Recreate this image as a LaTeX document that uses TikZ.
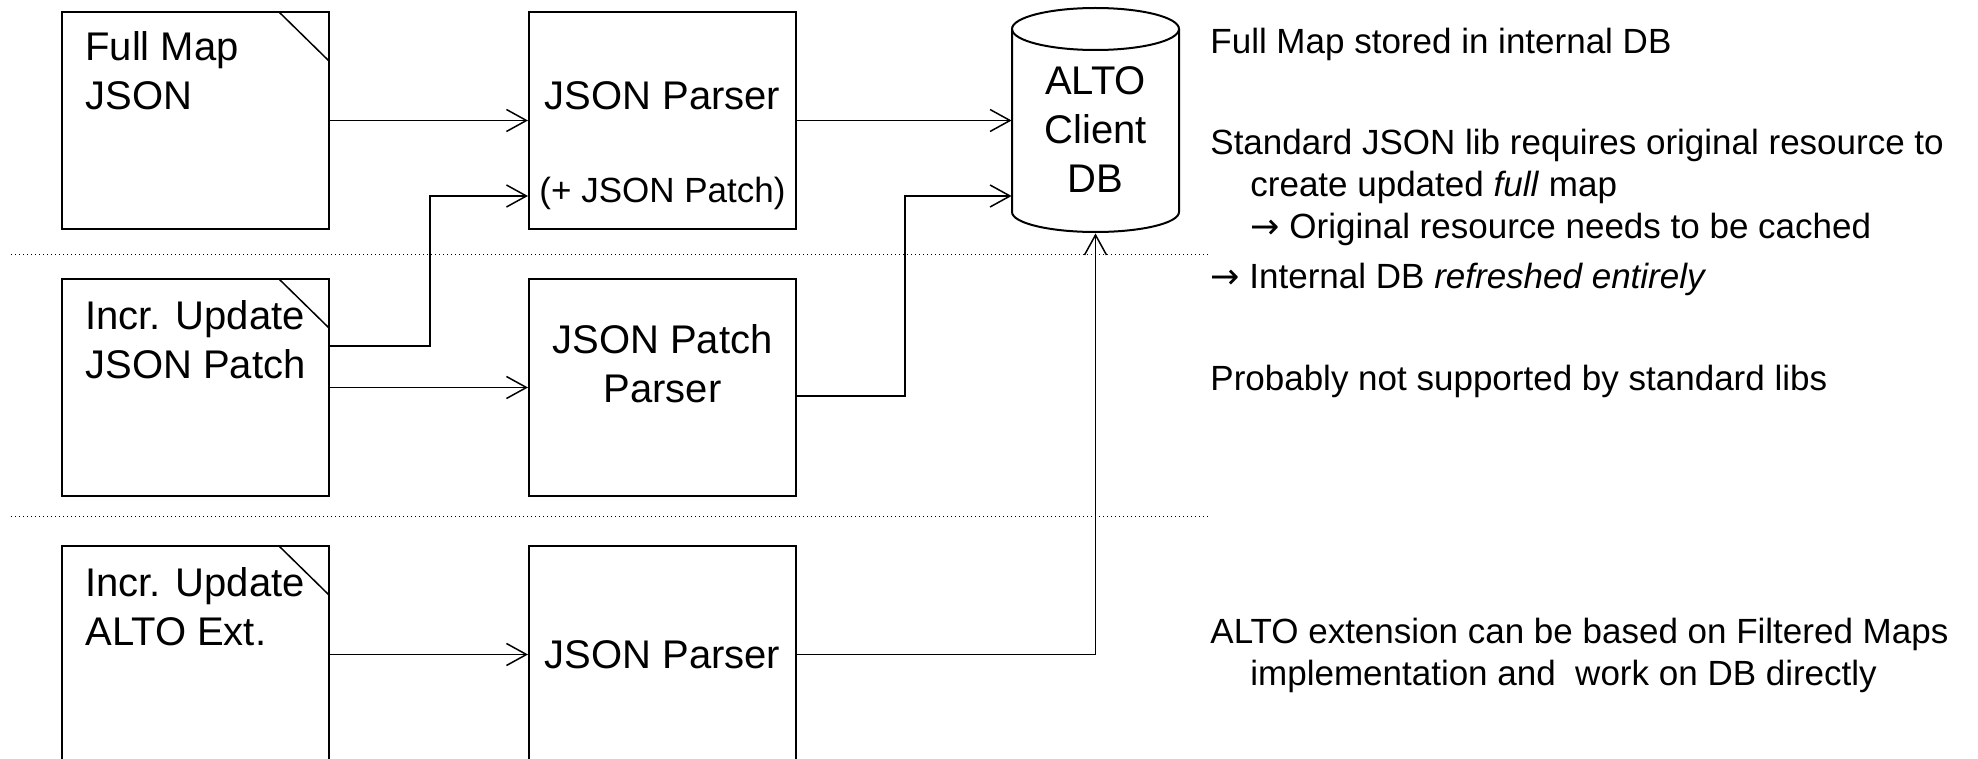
\documentclass[tikz,border=0pt]{standalone}
\usepackage{fontspec}
\setmainfont{Liberation Sans}
\newfontfamily\arrowfont{DejaVu Sans}
\newcommand{\notearrow}{{\arrowfont →}}
\usetikzlibrary{arrows.meta,positioning}

\tikzset{
  docbox/.style={draw, line width=1pt, inner sep=0pt,
    minimum width=133.5pt, minimum height=108.5pt,
    path picture={\draw[line width=0.75pt]
      ([xshift=-25pt]path picture bounding box.north east) --
      ([yshift=-24.5pt]path picture bounding box.north east);}},
  parsebox/.style={draw, line width=1pt, inner sep=0pt,
    minimum width=133.5pt, minimum height=108.5pt},
  dbbox/.style={inner sep=0pt, minimum width=83.5pt, minimum height=112.5pt},
  dbline/.style={line width=1pt},
  boxtext/.style={inner sep=0pt, font=\fontsize{20}{24.5}\selectfont},
  smalltext/.style={inner sep=0pt, font=\fontsize{17.5}{21}\selectfont},
  notetext/.style={inner sep=0pt, anchor=north west, align=left,
    font=\fontsize{17.5}{21}\selectfont},
  conn/.style={line width=0.75pt},
  sepline/.style={line width=0.5pt, dash pattern=on 0.5pt off 1.5pt},
}

\begin{document}
\begin{tikzpicture}[>={Straight Barb[length=10pt,width=11pt]}, x=0.5pt, y=-0.5pt]
  \useasboundingbox (0,0) rectangle (1978,759);

  % \draw input documents
  \node[docbox] (fullmap) at (195.5,120.5) {};
  \node[docbox] (incrpatch) at (195.5,387.5) {};
  \node[docbox] (incralto) at (195.5,654.5) {};
  \node[boxtext, align=left, below right=10pt and 12pt of fullmap.north west] (fullmaptext) {Full Map\\JSON};
  \node[boxtext, align=left, below right=11pt and 12pt of incrpatch.north west] (incrpatchtext) {Incr. Update\\JSON Patch};
  \node[boxtext, align=left, below right=11pt and 12pt of incralto.north west] (incraltotext) {Incr. Update\\ALTO Ext.};

  % \draw parsers
  \node[parsebox] (jparser) at (662.5,120.5) {};
  \node[parsebox] (pparser) at (662.5,387.5) {};
  \node[parsebox] (aparser) at (662.5,654.5) {};
  \node[boxtext, anchor=base] (jparsertext) at (662.5,110) {JSON Parser};
  \node[smalltext, anchor=base] (jpatchtext) at (662.5,203) {(+ JSON Patch)};
  \node[boxtext, align=center] (pparsertext) at (662.5,364) {JSON Patch\\Parser};
  \node[boxtext] (aparsertext) at (aparser) {JSON Parser};

  % \draw client database
  \node[dbbox] (db) at (1095.5,120.5) {};
  \draw[dbline] (1012,29) -- (1012,212)
    arc[start angle=180, end angle=0, x radius=83.5, y radius=20] -- (1179,29);
  \draw[dbline] (1095.5,29) ellipse [x radius=83.5, y radius=21];
  \node[boxtext, align=center] (dbtext) at (1095.5,130) {ALTO\\Client\\DB};

  % \draw connectors
  \draw[conn,->] (fullmap) -- (jparser);
  \draw[conn,->] ([yshift=20.75pt]incrpatch.east) -- ++(100,0) |- ([yshift=-37.75pt]jparser.west);
  \draw[conn,->] (incrpatch) -- (pparser);
  \draw[conn,->] (incralto) -- (aparser);
  \draw[conn,->] (jparser) -- (db);
  \draw[conn,->] ([yshift=-4.25pt]pparser.east) -- ++(108,0) |- ([yshift=-37.75pt]db.west);
  \draw[conn,->] (aparser.east) -| (db.south);

  % \draw separators
  \draw[sepline] (11,255) -- (1208,255);
  \draw[sepline] (11,516) -- (1208,516);

  % notes
  \node[notetext] (note1) at (1210,28) {Full Map stored in internal DB};
  \node[notetext] (note2) at (1210,129) {Standard JSON lib requires original resource to\\
    \hspace*{20pt}create updated \textit{full} map\\
    \hspace*{20pt}\notearrow{} Original resource needs to be cached};
  \node[notetext] (note3) at (1210,263) {\notearrow{} Internal DB \textit{refreshed entirely}};
  \node[notetext] (note4) at (1210,365) {Probably not supported by standard libs};
  \node[notetext] (note5) at (1210,618) {ALTO extension can be based on Filtered Maps\\
    \hspace*{20pt}implementation and~ work on DB directly};
\end{tikzpicture}
\end{document}
